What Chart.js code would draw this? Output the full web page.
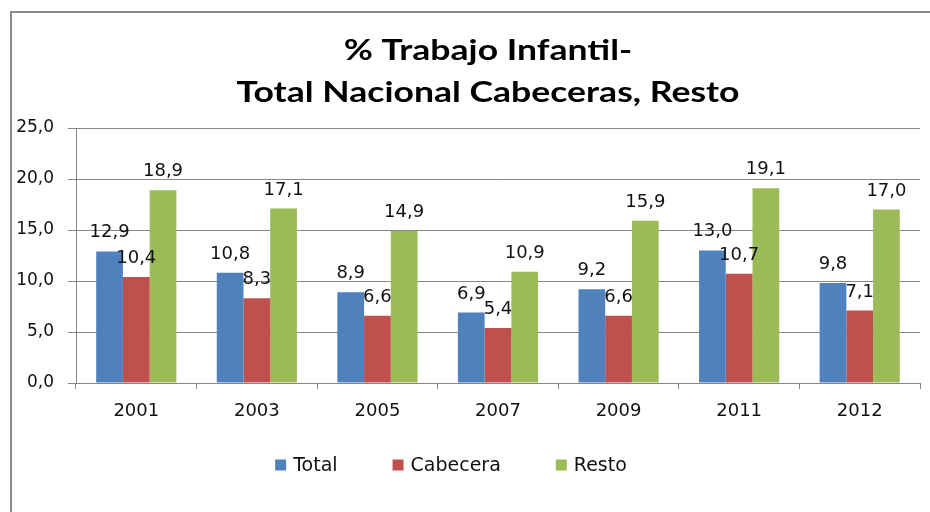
<!DOCTYPE html>
<html>
<head>
<meta charset="utf-8">
<script src="https://cdn.jsdelivr.net/npm/chart.js@4.4.1/dist/chart.umd.min.js"></script>
<style>
  html, body { margin: 0; padding: 0; background: #fff; }
  #wrap { width: 930px; height: 512px; position: relative; }
</style>
</head>
<body>
<div id="wrap"><canvas id="chart"></canvas></div>
<script>
// % Trabajo Infantil - Total Nacional / Cabeceras / Resto
const years = ['2001', '2003', '2005', '2007', '2009', '2011', '2012'];
const total = [12.9, 10.8, 8.9, 6.9, 9.2, 13.0, 9.8];
const cabecera = [10.4, 8.3, 6.6, 5.4, 6.6, 10.7, 7.1];
const resto = [18.9, 17.1, 14.9, 10.9, 15.9, 19.1, 17.0];
const seriesNames = ['Total', 'Cabecera', 'Resto'];
const seriesColors = ['#4F81BD', '#C0504D', '#9BBB59'];
const titleLines = ['% Trabajo Infantil-', 'Total Nacional Cabeceras, Resto'];
const yMin = 0, yMax = 25, yStep = 5;

const fmt = v => v.toFixed(1).replace('.', ',');
const FONT = '"DejaVu Sans", Verdana, sans-serif';

// white background + outer frame
const framePlugin = {
  id: 'frame',
  beforeDraw(chart) {
    const ctx = chart.ctx;
    ctx.save();
    ctx.fillStyle = '#fff';
    ctx.fillRect(0, 0, chart.width, chart.height);
    ctx.strokeStyle = '#8a8a8a';
    ctx.lineWidth = 2;
    ctx.beginPath();
    ctx.moveTo(11, chart.height + 5);
    ctx.lineTo(11, 12);
    ctx.lineTo(chart.width + 5, 12);
    ctx.stroke();
    ctx.restore();
  }
};

// title looks like a horizontally stretched Calibri in the original
const titlePlugin = {
  id: 'twoLineTitle',
  afterDraw(chart) {
    const ctx = chart.ctx;
    const sx = 1.27;
    ctx.save();
    ctx.fillStyle = '#000';
    ctx.font = 'bold 28px Lato, sans-serif';
    ctx.textAlign = 'center';
    ctx.textBaseline = 'alphabetic';
    ctx.scale(sx, 1);
    ctx.fillText(titleLines[0], 488 / sx, 60);
    ctx.fillText(titleLines[1], 488 / sx, 102);
    ctx.restore();
  }
};

// value labels above each bar
const valueLabels = {
  id: 'valueLabels',
  afterDatasetsDraw(chart) {
    const ctx = chart.ctx;
    ctx.save();
    ctx.font = '18px ' + FONT;
    ctx.fillStyle = '#111';
    ctx.textAlign = 'center';
    ctx.textBaseline = 'alphabetic';
    chart.data.datasets.forEach((ds, i) => {
      chart.getDatasetMeta(i).data.forEach((bar, j) => {
        ctx.fillText(fmt(ds.data[j]), bar.x, bar.y - 14);
      });
    });
    ctx.restore();
  }
};

// legend drawn at bottom, spaced like the original
const bottomLegend = {
  id: 'bottomLegend',
  afterDraw(chart) {
    const ctx = chart.ctx;
    const box = 11, gapText = 7, gapItem = 55, cy = 465, cx = 451;
    ctx.save();
    ctx.font = '19px ' + FONT;
    const widths = chart.data.datasets.map(d => box + gapText + ctx.measureText(d.label).width);
    const totalW = widths.reduce((a, b) => a + b, 0) + gapItem * (widths.length - 1);
    let x = cx - totalW / 2;
    ctx.textBaseline = 'middle';
    ctx.textAlign = 'left';
    chart.data.datasets.forEach((d, i) => {
      ctx.fillStyle = d.backgroundColor;
      ctx.fillRect(x, cy - box / 2, box, box);
      ctx.fillStyle = '#111';
      ctx.fillText(d.label, x + box + gapText, cy + 1);
      x += widths[i] + gapItem;
    });
    ctx.restore();
  }
};

const allSeries = [total, cabecera, resto];

new Chart(document.getElementById('chart'), {
  type: 'bar',
  data: {
    labels: years,
    datasets: allSeries.map((values, i) => ({
      label: seriesNames[i],
      data: values,
      backgroundColor: seriesColors[i],
      borderWidth: 0,
      categoryPercentage: 0.665,
      barPercentage: 1.0
    }))
  },
  options: {
    responsive: true,
    maintainAspectRatio: false,
    animation: false,
    layout: { padding: { top: 128, left: 10, right: 10, bottom: 0 } },
    plugins: {
      legend: { display: false },
      title: { display: false },
      tooltip: { enabled: false }
    },
    scales: {
      x: {
        grid: { drawOnChartArea: false, drawTicks: true, tickLength: 6, color: '#868686', offset: true },
        border: { color: '#868686', width: 1 },
        ticks: { font: { family: FONT, size: 18 }, color: '#111', padding: 12 },
        afterFit(s) { s.height = 129; }
      },
      y: {
        min: yMin,
        max: yMax,
        ticks: {
          stepSize: yStep,
          font: { family: FONT, size: 17 },
          color: '#111',
          padding: 14,
          callback: v => fmt(v)
        },
        grid: { color: '#868686', tickLength: 8 },
        border: { color: '#868686', width: 1 },
        afterFit(s) { s.width = 66; }
      }
    }
  },
  plugins: [framePlugin, titlePlugin, valueLabels, bottomLegend]
});
</script>
</body>
</html>
